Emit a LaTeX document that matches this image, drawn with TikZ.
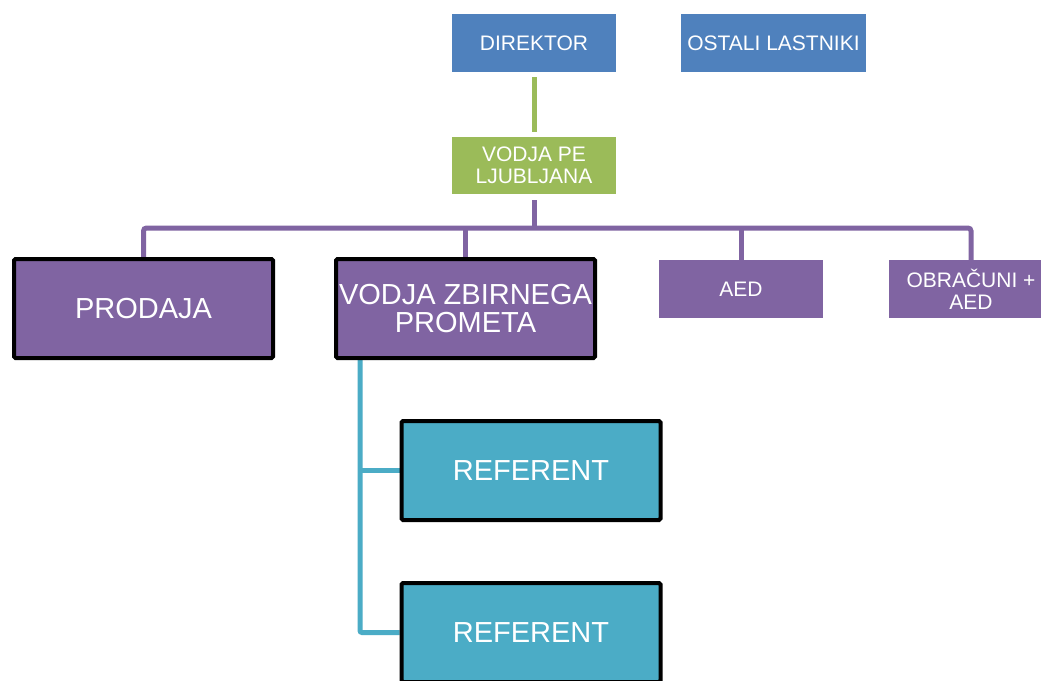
\documentclass[tikz,border=0pt]{standalone}
\usepackage{fontspec}
\setmainfont{Liberation Sans}
\usetikzlibrary{backgrounds}
\definecolor{boxblue}{HTML}{4F81BD}
\definecolor{boxgreen}{HTML}{9BBB59}
\definecolor{boxpurple}{HTML}{8064A2}
\definecolor{boxteal}{HTML}{4BACC6}
\tikzset{
  flatbox/.style={rectangle, draw=none, text=white, align=center,
    inner sep=0pt, minimum width=164pt, minimum height=58pt,
    font=\fontsize{21}{22}\selectfont},
  framebox/.style={rectangle, draw=black, line width=4pt, rounded corners=1.5pt,
    text=white, align=center, inner sep=0pt,
    minimum width=259pt, minimum height=99pt,
    font=\fontsize{29}{28}\selectfont},
  link/.style={line width=5pt},
}
\begin{document}
\begin{tikzpicture}[x=1pt, y=-1pt]
  \useasboundingbox (0,0) rectangle (1041,680);
  \clip (0,0) rectangle (1041,680);

  % top level
  \node[flatbox, fill=boxblue] (dir) at (534,43) {DIREKTOR};
  \node[flatbox, fill=boxblue, minimum width=185pt] (own) at (773.5,43) {OSTALI LASTNIKI};
  \node[flatbox, fill=boxgreen, minimum height=57pt] (vpe) at (534,165.5) {VODJA PE\\LJUBLJANA};

  % departments
  \node[framebox, fill=boxpurple] (prod) at (143.5,308.5) {PRODAJA};
  \node[framebox, fill=boxpurple] (zb) at (465.5,308.5) {VODJA ZBIRNEGA\\PROMETA};
  \node[flatbox, fill=boxpurple] (aed) at (741,289) {AED};
  \node[flatbox, fill=boxpurple] (obr) at (971,289) {OBRAČUNI +\\AED};

  % staff
  \node[framebox, fill=boxteal] (ref1) at (531,470.5) {REFERENT};
  \node[framebox, fill=boxteal] (ref2) at (531,632.5) {REFERENT};

  % connectors, drawn behind the boxes
  \begin{pgfonlayer}{background}
    \fill[white] (0,0) rectangle (1041,680);
    \coordinate (bus) at (0,228);
    \coordinate (trunk) at (360,360);

    \draw[link, boxgreen, shorten >=5pt, shorten <=5pt] (dir.south) -- (vpe.north);

    \draw[link, boxpurple, shorten <=6pt] (vpe.south) -- (vpe.south |- bus);
    \draw[link, boxpurple, rounded corners=3pt]
      (prod.north) -- (prod.north |- bus) -- (obr.north |- bus) -- ([yshift=-5pt]obr.north);
    \draw[link, boxpurple] (zb.north |- bus) -- (zb.north);
    \draw[link, boxpurple] (aed.north |- bus) -- ([yshift=-5pt]aed.north);

    \draw[link, boxteal, rounded corners=2pt] (trunk) |- (ref2.west);
    \draw[link, boxteal] (trunk |- ref1.west) -- (ref1.west);
  \end{pgfonlayer}
\end{tikzpicture}
\end{document}
